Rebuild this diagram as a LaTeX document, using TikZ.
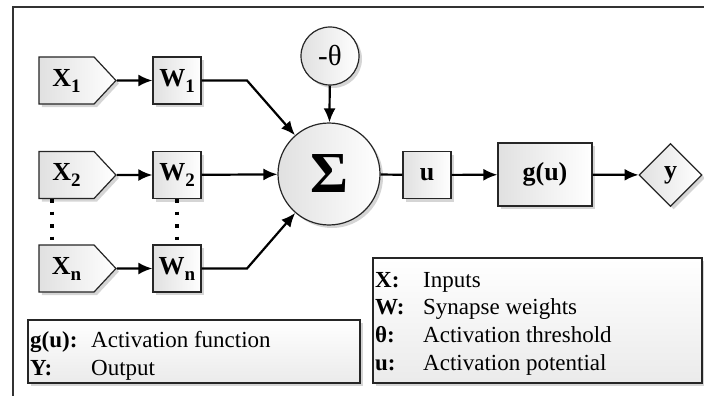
\documentclass[tikz,border=0pt]{standalone}
\usepackage{fontspec}
\setmainfont{Liberation Serif}
\usetikzlibrary{arrows.meta,shapes.geometric,shapes.symbols,shadows}

% subscript used in the input and weight labels
\newcommand{\lowidx}[1]{\raisebox{-6pt}{\fontsize{19}{19}\selectfont #1}}

\begin{document}
\begin{tikzpicture}[x=1pt,y=-1pt,
  shaded/.style={left color=black!12,right color=white,draw=black!85,line width=1.2pt,
    drop shadow={shadow xshift=3pt,shadow yshift=-3pt,fill=black!30,opacity=0.55}},
  labelfont/.style={font=\fontsize{26}{26}\selectfont\bfseries},
  inbox/.style={shaded,labelfont,signal,signal to=east,signal pointer angle=94,
    minimum width=77pt,minimum height=47pt,inner sep=0pt},
  wbox/.style={shaded,labelfont,rectangle,minimum width=48pt,minimum height=47pt,inner sep=0pt},
  conn/.style={line width=2.2pt,-{Latex[length=14pt,width=12pt]}},
  wire/.style={line width=2.2pt},
  dots/.style={line width=3.5pt,dash pattern=on 3.5pt off 9pt},
  legbox/.style={draw=black!85,line width=1.2pt,top color=white,bottom color=black!8,
    drop shadow={shadow xshift=3pt,shadow yshift=-3pt,fill=black!30,opacity=0.55},inner sep=0pt},
  legkey/.style={anchor=base west,inner sep=0pt,font=\fontsize{23}{23}\selectfont\bfseries},
  legtext/.style={anchor=base west,inner sep=0pt,font=\fontsize{23}{23}\selectfont}
]
\useasboundingbox (0,0) rectangle (704,396);

% outer frame
\draw[line width=2pt,black!80] (704,7) -- (13,7) -- (13,396);

% inputs
\node[inbox] (x1) at (66.5,80.5) {X\lowidx{1}\hspace{14pt}};
\node[inbox] (x2) at (66.5,175) {X\lowidx{2}\hspace{14pt}};
\node[inbox] (xn) at (66.5,268.5) {X\lowidx{n}\hspace{14pt}};

% synapse weights
\node[wbox] (w1) at (177,80.5) {W\lowidx{1}};
\node[wbox] (w2) at (177,175) {W\lowidx{2}};
\node[wbox] (wn) at (177,268.5) {W\lowidx{n}};

% summing junction and threshold
\node[shaded,circle,minimum size=102pt,inner sep=0pt,
      font=\fontsize{58}{58}\selectfont\bfseries] (sum) at (329,174) {Σ};
\node[shaded,circle,minimum size=58pt,inner sep=0pt,
      font=\fontsize{29}{29}\selectfont] (theta) at (330,56) {-θ};

% activation potential, activation function, output
\node[wbox] (u) at (427,175) {u};
\node[shaded,labelfont,rectangle,minimum width=94pt,minimum height=63pt,inner sep=0pt] (g) at (545,174.5) {g(u)};
\node[shaded,labelfont,diamond,minimum width=63pt,minimum height=63pt,inner sep=0pt] (y) at (670.5,175) {y};

% connectors
\coordinate (k1) at (247,80.5);
\coordinate (kn) at (247,268.5);
\draw[conn] (x1) -- (w1);
\draw[conn] (x2) -- (w2);
\draw[conn] (xn) -- (wn);
\draw[conn] (w1.east) -- (k1) -- (sum);
\draw[conn] (w2) -- (sum);
\draw[conn] (wn.east) -- (kn) -- (sum);
\draw[conn] (theta) -- (sum);
\draw[wire] (sum) -- (u);
\draw[conn] (u) -- (g);
\draw[conn] (g) -- (y);
\draw[dots] ([xshift=-14.5pt]x2.south) -- ([xshift=-14.5pt]xn.north);
\draw[dots] (w2.south) -- (wn.north);

% legends
\node[legbox,minimum width=332pt,minimum height=63pt] (legA) at (194,351.5) {};
\node[legkey] (ka1) at (30,347) {g(u):};
\node[legtext] (ta1) at (91,347) {Activation function};
\node[legkey] (ka2) at (30,375) {Y:};
\node[legtext] (ta2) at (91,375) {Output};

\node[legbox,minimum width=329pt,minimum height=125pt] (legB) at (537.5,320.5) {};
\node[legkey] (kb1) at (375,287) {X:};
\node[legtext] (tb1) at (423,287) {Inputs};
\node[legkey] (kb2) at (375,314.5) {W:};
\node[legtext] (tb2) at (423,314.5) {Synapse weights};
\node[legkey] (kb3) at (375,342) {θ:};
\node[legtext] (tb3) at (423,342) {Activation threshold};
\node[legkey] (kb4) at (375,370) {u:};
\node[legtext] (tb4) at (423,370) {Activation potential};
\end{tikzpicture}
\end{document}
